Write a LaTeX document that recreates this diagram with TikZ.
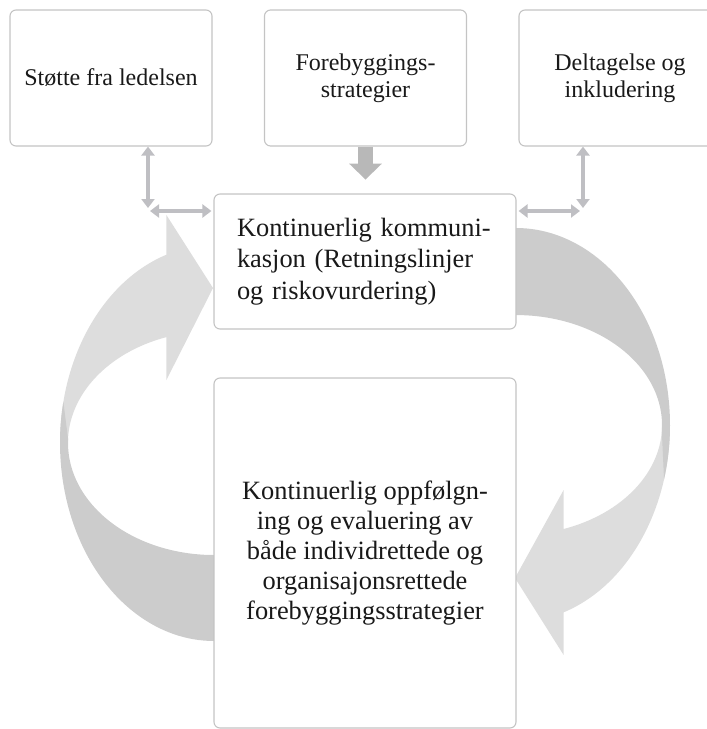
\documentclass[tikz,border=0pt]{standalone}
\usepackage{fontspec}
\setmainfont{Liberation Serif}
\usetikzlibrary{arrows.meta}
\definecolor{boxline}{HTML}{C4C4C4}
\definecolor{darkband}{HTML}{CCCCCC}
\definecolor{lightband}{HTML}{DDDDDD}
\definecolor{linkgray}{HTML}{BFBFC3}
\definecolor{fatgray}{HTML}{B8B8B8}

\begin{document}
\begin{tikzpicture}[x=1pt,y=-1pt,
	topbox/.style={draw=boxline, line width=1.1pt, fill=white, rounded corners=6pt, minimum width=202pt, minimum height=136pt, align=center, text=black!90, font=\fontsize{24}{27}\selectfont},
	midbox/.style={topbox, minimum width=302pt, minimum height=135pt, font=\fontsize{26.4}{31.5}\selectfont},
	link/.style={draw=linkgray, line width=3.4pt, {Triangle[length=9pt,width=13pt]}-{Triangle[length=9pt,width=13pt]}}]
\useasboundingbox (0,0) rectangle (707,729);
\clip (0,0) rectangle (707,729);
% right curved arrow
\fill[lightband] (670,425) arc[start angle=0, end angle=72, x radius=154, y radius=197] -- ++(0,42.6) -- (515,578) -- (563.6,490) -- (563.6,529) arc[start angle=71, end angle=0, x radius=146, y radius=110] -- cycle;
\fill[darkband] (516,228) arc[start angle=-90, end angle=16, x radius=154, y radius=197] -- (661.8,430.8) arc[start angle=3, end angle=-90, x radius=146, y radius=110] -- cycle;
% left curved arrow
\fill[lightband] (60,443) arc[start angle=180, end angle=252, x radius=154, y radius=198] -- ++(0,-39.7) -- (213,288) -- (166.4,380) -- (166.4,337.1) arc[start angle=251, end angle=180, x radius=146, y radius=112] -- cycle;
\fill[darkband] (214,641) arc[start angle=90, end angle=192, x radius=154, y radius=198] -- (68.1,439.1) arc[start angle=182, end angle=90, x radius=146, y radius=112] -- cycle;
% boxes
\foreach \x/\n/\t in {111/sup/{Støtte fra ledelsen}, 365.5/frb/{Forebyggings-\\strategier}, 620/dlt/{Deltagelse og\\inkludering}} {
	\node[topbox] (\n) at (\x,78) {\t};
};
\node[midbox, align=left, text width=256pt, inner xsep=23pt] (kom) at (365,261.5) {Kontinuerlig kommuni-\\kasjon (Retningslinjer\\og riskovurdering)};
\node[midbox, minimum height=350pt, font=\fontsize{26.4}{30}\selectfont] (opf) at (365,553) {Kontinuerlig oppfølgn-\\ing og evaluering av\\både individrettede og\\organisajonsrettede\\forebyggingsstrategier};
% links
\coordinate (ljoint) at (148,211);
\coordinate (rjoint) at (583,211);
\draw[link, shorten >=3pt] (sup.south -| ljoint) -- (ljoint);
\draw[link, shorten <=2pt, shorten >=2pt] (ljoint) -- (kom.west |- ljoint);
\draw[link, shorten >=3pt] (dlt.south -| rjoint) -- (rjoint);
\draw[link, shorten <=2pt, shorten >=3pt] (kom.east |- rjoint) -- (rjoint);
\draw[fatgray, line width=15pt, -{Triangle[length=16pt,width=32pt]}] (frb.south) -- ++(0,33);
\end{tikzpicture}
\end{document}
